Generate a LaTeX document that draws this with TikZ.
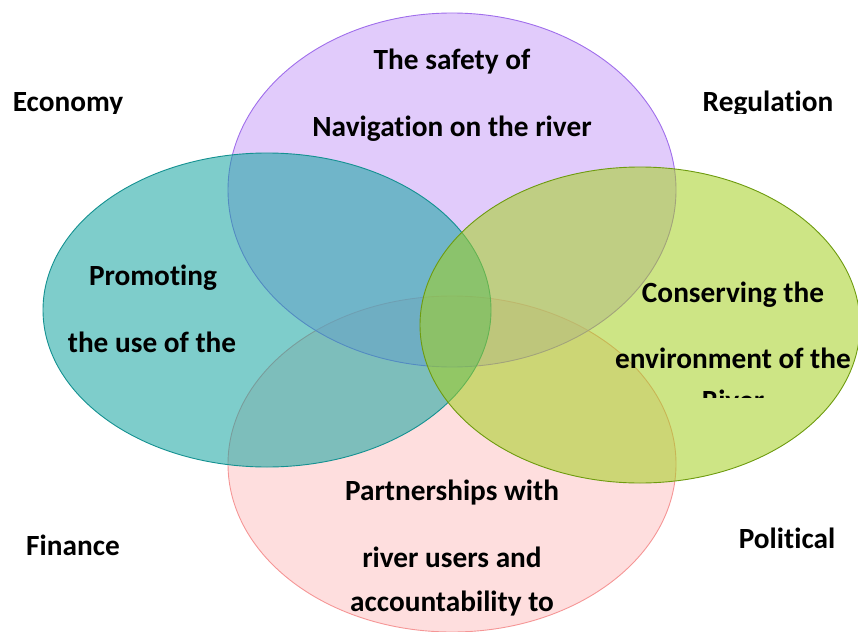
\documentclass[tikz,border=0pt]{standalone}
\usepackage{fontspec}
\setmainfont{Carlito}[Ligatures=NoCommon]
\definecolor{lilac}{RGB}{200,160,248}
\definecolor{lilacline}{RGB}{160,110,235}
\definecolor{tealfill}{RGB}{20,164,160}
\definecolor{tealline}{RGB}{20,145,145}
\definecolor{limefill}{RGB}{164,208,32}
\definecolor{limeline}{RGB}{110,155,15}
\definecolor{rosefill}{RGB}{253,195,195}
\definecolor{roseline}{RGB}{245,150,150}
\begin{document}
\begin{tikzpicture}[x=1pt,y=-1pt,
  ring/.style={fill opacity=0.55,line width=0.9pt},
  topring/.style={ring,fill=lilac,draw=lilacline},
  leftring/.style={ring,fill=tealfill,draw=tealline},
  rightring/.style={ring,fill=limefill,draw=limeline},
  lowring/.style={ring,fill=rosefill,draw=roseline},
  lbl/.style={font=\fontsize{29.3}{29.3}\selectfont\bfseries,inner sep=0pt,anchor=base}]
  \useasboundingbox (0,0) rectangle (858,631);

  % the four circles
  \path[lowring] (452,464) ellipse [x radius=224pt, y radius=168pt];
  \path[topring] (452,190) ellipse [x radius=224pt, y radius=177pt];
  \path[leftring] (267,310) ellipse [x radius=224pt, y radius=157pt];
  \path[rightring] (640,325) ellipse [x radius=220pt, y radius=158pt];

  % texts inside
  \path
  (452,70) node[lbl] (safety1) {The safety of}
  (452,137) node[lbl] (safety2) {Navigation on the river}
  (153,285) node[lbl] (promo1) {Promoting}
  (152,352) node[lbl] (promo2) {the use of the}
  (733,302) node[lbl] (envir1) {Conserving the}
  (733,368) node[lbl] (envir2) {environment of the}
  (452,500) node[lbl] (partner1) {Partnerships with}
  (452,567) node[lbl] (partner2) {river users and}
  (452,611) node[lbl] (partner3) {accountability to};
  \begin{scope}
    \clip (600,380) rectangle (858,397);
    \node[lbl] (envir3) at (733,410) {River};
  \end{scope}

  % corner words
  \begin{scope}
    \clip (0,0) rectangle (858,114);
    \node[lbl] (economy) at (68,112) {Economy};
    \node[lbl] (regulation) at (768,112) {Regulation};
  \end{scope}
  \node[lbl] (finance) at (73,555) {Finance};
  \node[lbl] (political) at (787,548) {Political};
\end{tikzpicture}
\end{document}
